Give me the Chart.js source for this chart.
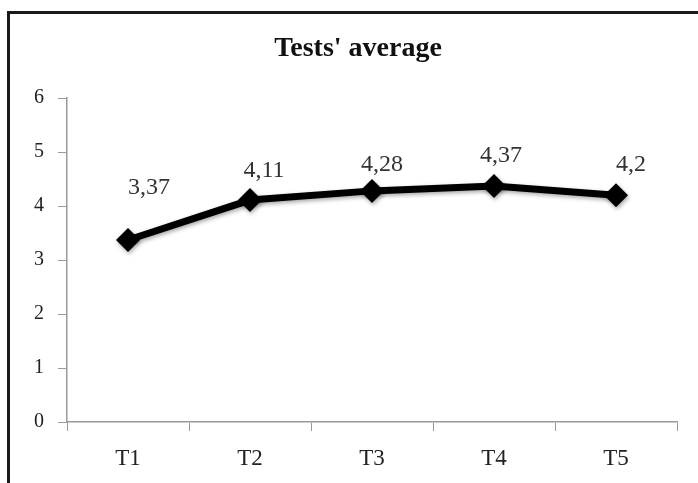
<!DOCTYPE html>
<html>
<head>
<meta charset="utf-8">
<script src="https://cdn.jsdelivr.net/npm/chart.js@4"></script>
<style>
  html, body { margin: 0; padding: 0; background: #fff; overflow: hidden; }
  #wrap { position: relative; width: 698px; height: 483px; }
  #frame {
    position: absolute; left: 7px; top: 11px; width: 720px; height: 520px;
    border-left: 3px solid #1a1a1a; border-top: 3px solid #1a1a1a;
  }
  canvas { position: absolute; left: 0; top: 0; }
</style>
</head>
<body>
<div id="wrap">
  <div id="frame"></div>
  <canvas id="chart" width="698" height="483"></canvas>
</div>
<script>
// data
const categories = ["T1", "T2", "T3", "T4", "T5"];
const averages = [3.37, 4.11, 4.28, 4.37, 4.2];
const yMin = 0;
const yMax = 6;
const yStep = 1;
const chartTitle = "Tests' average";

const FONT = "'Liberation Serif', 'DejaVu Serif', serif";

// title, a little right of the canvas centre like the original
const titlePlugin = {
  id: "sheetTitle",
  afterDraw(chart, args, opts) {
    const ctx = chart.ctx;
    ctx.save();
    ctx.font = opts.font;
    ctx.fillStyle = opts.color;
    ctx.textAlign = "center";
    ctx.textBaseline = "middle";
    ctx.fillText(opts.text, chart.width / 2 + opts.shiftX, opts.y);
    ctx.restore();
  },
};

// value labels, placed relative to each point (dx, dy in px)
const valueLabelPlugin = {
  id: "valueLabels",
  afterDatasetsDraw(chart, args, opts) {
    const ctx = chart.ctx;
    const meta = chart.getDatasetMeta(0);
    ctx.save();
    ctx.font = opts.font;
    ctx.fillStyle = opts.color;
    ctx.textAlign = "center";
    ctx.textBaseline = "middle";
    meta.data.forEach((pt, i) => {
      const off = opts.offsets[i] || [0, -30];
      const txt = String(averages[i]).replace(".", ",");
      ctx.fillText(txt, pt.x + off[0], pt.y + off[1]);
    });
    ctx.restore();
  },
};

// soft shadow under the line
const shadowPlugin = {
  id: "lineShadow",
  beforeDatasetsDraw(chart) {
    const ctx = chart.ctx;
    ctx.save();
    ctx.shadowColor = "rgba(0,0,0,0.35)";
    ctx.shadowBlur = 4;
    ctx.shadowOffsetX = 1;
    ctx.shadowOffsetY = 2;
  },
  afterDatasetsDraw(chart) {
    chart.ctx.restore();
  },
};

new Chart(document.getElementById("chart"), {
  type: "line",
  data: {
    labels: categories,
    datasets: [
      {
        data: averages,
        borderColor: "#000",
        backgroundColor: "#000",
        borderWidth: 7,
        pointStyle: "rectRot",
        pointRadius: 12,
        pointBorderWidth: 0,
        tension: 0,
      },
    ],
  },
  options: {
    responsive: false,
    animation: false,
    layout: { padding: { left: 10, right: 21, top: 98, bottom: 7 } },
    plugins: {
      legend: { display: false },
      tooltip: { enabled: false },
      title: { display: false },
      sheetTitle: {
        text: chartTitle,
        font: "bold 28px " + FONT,
        color: "#111",
        shiftX: 9,
        y: 49,
      },
      valueLabels: {
        font: "24px " + FONT,
        color: "#333",
        offsets: [[21, -52], [14, -29], [10, -26], [7, -30], [15, -30]],
      },
    },
    scales: {
      x: {
        offset: true,
        afterFit(scale) { scale.height = 54; },
        grid: {
          offset: true,
          drawOnChartArea: false,
          tickLength: 9,
          color: "#999",
        },
        border: { color: "#999", width: 1.5 },
        ticks: {
          color: "#222",
          padding: 14,
          font: { family: FONT, size: 23 },
        },
      },
      y: {
        min: yMin,
        max: yMax,
        afterFit(scale) { scale.width = 57; },
        grid: {
          drawOnChartArea: false,
          tickLength: 9,
          color: "#999",
        },
        border: { color: "#999", width: 1.5 },
        ticks: {
          stepSize: yStep,
          color: "#222",
          padding: 14,
          font: { family: FONT, size: 20 },
        },
      },
    },
  },
  plugins: [shadowPlugin, valueLabelPlugin, titlePlugin],
});
</script>
</body>
</html>
